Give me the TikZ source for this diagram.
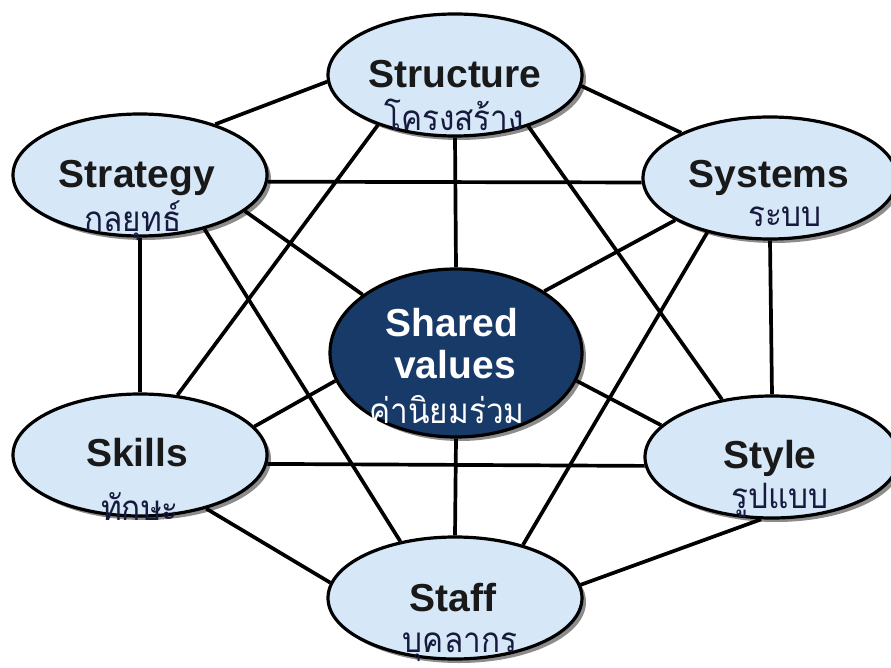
\documentclass[tikz,border=0pt]{standalone}
\usepackage{fontspec}
\setmainfont{Liberation Sans}
\newfontfamily\thaifont[Script=Thai,FakeStretch=0.9]{Loma}
\usetikzlibrary{shapes.geometric,shadows}
\definecolor{cellblue}{RGB}{214,231,248}
\definecolor{corenavy}{RGB}{24,58,104}
\definecolor{thaiink}{RGB}{22,26,60}
\begin{document}
\begin{tikzpicture}[x=1pt,y=-1pt,
  sbox/.style={ellipse, draw=black, line width=3.2pt, fill=cellblue,
    minimum width=254pt, minimum height=122pt, inner sep=0pt,
    drop shadow={shadow xshift=4pt, shadow yshift=-4pt, fill=black!45, opacity=1}},
  corebox/.style={sbox, fill=corenavy, minimum width=252pt, minimum height=168pt},
  link/.style={line width=3.7pt, draw=black},
  entxt/.style={anchor=base, inner sep=0pt, font=\fontsize{39}{42}\selectfont\bfseries, text=black!90},
  thtxt/.style={anchor=base, inner sep=0pt, font=\fontsize{35}{38}\selectfont\thaifont, text=thaiink},
]
\useasboundingbox (0,0) rectangle (891,668);
\fill[white] (0,0) rectangle (891,668);

% the seven elements
\node[sbox] (structure) at (455,75) {};
\node[sbox] (strategy) at (140,175) {};
\node[sbox] (systems) at (770,178) {};
\node[corebox] (shared) at (456,353) {};
\node[sbox] (skills) at (140,455) {};
\node[sbox] (style) at (772,457) {};
\node[sbox] (staff) at (455,598) {};

% links between the elements
\draw[link] (structure.-177) -- (strategy.34.5);
\draw[link] (structure.-5) -- (systems.153);
\draw[link] (strategy.-3) -- (systems.-178);
\draw[link] (structure.-90) -- (shared.90);
\draw[link] (structure.-147) -- (skills.58);
\draw[link] (structure.-35) -- (style.131);
\draw[link] (strategy.-90) -- (skills.90);
\draw[link] (strategy.-19) -- (shared.148);
\draw[link] (strategy.-40) -- (staff.134);
\draw[link] (systems.-156) -- (shared.35);
\draw[link] (systems.-139) -- (staff.38);
\draw[link] (systems.-90) -- (style.90);
\draw[link] (shared.-167) -- (skills.14);
\draw[link] (shared.-13.6) -- (style.164);
\draw[link] (skills.-4.5) -- (style.-176.4);
\draw[link] (shared.-90) -- (staff.90);
\draw[link] (skills.-39) -- (staff.173);
\draw[link] (style.-100) -- (staff.6.7);

% labels
\node[entxt] (structureEn) at (455,88) {Structure};
\node[thtxt] (structureTh) at (454,131) {โครงสร้าง};
\node[entxt] (strategyEn) at (137,188) {Strategy};
\node[thtxt] (strategyTh) at (133,232) {กลยุทธ์};
\node[entxt] (systemsEn) at (769,188) {Systems};
\node[thtxt] (systemsTh) at (785,227) {ระบบ};
\node[entxt, text=white] (sharedEn1) at (452,336) {Shared};
\node[entxt, text=white] (sharedEn2) at (455,378) {values};
\node[thtxt, text=white] (sharedTh) at (447,423) {ค่านิยมร่วม};
\node[entxt] (skillsEn) at (137,466) {Skills};
\node[thtxt] (skillsTh) at (140,520) {ทักษะ};
\node[entxt] (styleEn) at (770,468) {Style};
\node[thtxt] (styleTh) at (780,508) {รูปแบบ};
\node[entxt] (staffEn) at (453,611) {Staff};
\node[thtxt] (staffTh) at (460,652) {บุคลากร};
\end{tikzpicture}
\end{document}
